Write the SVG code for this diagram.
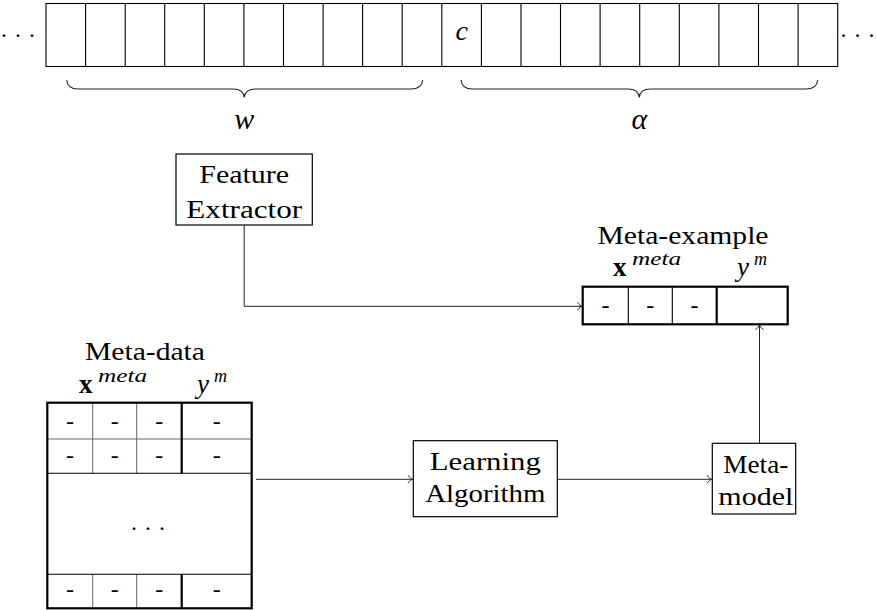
<svg xmlns="http://www.w3.org/2000/svg" width="876" height="610" viewBox="0 0 876 610">
<defs>
<style>
text{font-family:"Liberation Serif","Times New Roman",serif;fill:#000;}
.lbl{font-size:25px;text-anchor:middle;}
.it{font-style:italic;}
.bf{font-weight:bold;}
.sup{font-size:18px;font-style:italic;}
.dash{font-size:24px;text-anchor:middle;}
.box{fill:#fff;stroke:#000;stroke-width:1.2;}
.thin{stroke:#000;stroke-width:1.1;fill:none;}
.gray{stroke:#666;stroke-width:1;fill:none;}
.thick{stroke:#000;stroke-width:2.2;fill:none;}
.conn{stroke:#222;stroke-width:1;fill:none;marker-end:url(#arr);}
.brace{stroke:#222;stroke-width:1.1;fill:none;}
</style>
<marker id="arr" markerUnits="userSpaceOnUse" markerWidth="12" markerHeight="12" refX="0" refY="0" viewBox="-6 -6 12 12" orient="auto" overflow="visible">
<path d="M-4.5,-4 C-3,-1.6 -1.2,-0.4 0,0 C-1.2,0.4 -3,1.6 -4.5,4" fill="none" stroke="#222" stroke-width="1"/>
</marker>
</defs>

<g id="tape">
<rect x="46" y="3.5" width="791.7" height="63" class="thin"/>
<path class="thin" d="M85.6,3.5V66.5M125.2,3.5V66.5M164.7,3.5V66.5M204.3,3.5V66.5M243.9,3.5V66.5M283.5,3.5V66.5M323.1,3.5V66.5M362.6,3.5V66.5M402.2,3.5V66.5M441.8,3.5V66.5M481.4,3.5V66.5M521,3.5V66.5M560.5,3.5V66.5M600.1,3.5V66.5M639.7,3.5V66.5M679.3,3.5V66.5M718.9,3.5V66.5M758.5,3.5V66.5M798.1,3.5V66.5"/>
<text x="461.6" y="40" class="lbl it" font-size="28" style="font-size:28px">c</text>
<text x="18" y="43" class="lbl" style="font-size:24px">· · ·</text>
<text x="857.5" y="43" class="lbl" style="font-size:24px">· · ·</text>
</g>

<g id="brace-w">
<path class="brace" d="M66.7,80 Q67.5,89 78,89 L233,89 Q243.5,89 244.3,97.5 Q245.1,89 255.6,89 L411,89 Q421.9,89 422.7,80"/>
<text x="244.3" y="128.5" class="lbl it" style="font-size:30px">w</text>
</g>
<g id="brace-alpha">
<path class="brace" d="M461,80 Q461.8,89 472.3,89 L628,89 Q638.5,89 639.3,97.5 Q640.1,89 650.6,89 L806,89 Q816.9,89 817.7,80"/>
<text x="639.3" y="128.5" class="lbl it" style="font-size:30px">α</text>
</g>

<g id="feature-extractor">
<rect x="176" y="154" width="136.3" height="71" class="box"/>
<text x="244.2" y="183.3" class="lbl" textLength="90" lengthAdjust="spacingAndGlyphs">Feature</text>
<text x="244.2" y="218.3" class="lbl" textLength="115.7" lengthAdjust="spacingAndGlyphs">Extractor</text>
</g>

<g id="meta-example">
<text x="683" y="244" class="lbl" textLength="171" lengthAdjust="spacingAndGlyphs">Meta-example</text>
<text x="613" y="276" class="bf" style="font-size:27px">x</text>
<text x="632" y="265" class="sup" textLength="49" lengthAdjust="spacingAndGlyphs">meta</text>
<text x="737" y="276" class="it" style="font-size:27px">y</text>
<text x="754" y="265" class="sup">m</text>
<rect x="582.7" y="286.7" width="205" height="37.6" fill="#fff" stroke="none"/>
<path class="thin" d="M628.3,286.7V324.3M672.3,286.7V324.3"/>
<path class="thick" d="M716.7,286.7V324.3"/>
<rect x="582.7" y="286.7" width="205" height="37.6" class="thick"/>
<text x="605.5" y="312.5" class="dash">-</text>
<text x="650.3" y="312.5" class="dash">-</text>
<text x="694.5" y="312.5" class="dash">-</text>
</g>

<g id="meta-data">
<text x="145" y="360" class="lbl" textLength="120" lengthAdjust="spacingAndGlyphs">Meta-data</text>
<text x="79" y="393" class="bf" style="font-size:27px">x</text>
<text x="98" y="382" class="sup" textLength="49" lengthAdjust="spacingAndGlyphs">meta</text>
<text x="197" y="393" class="it" style="font-size:27px">y</text>
<text x="214" y="382" class="sup">m</text>
<rect x="47.3" y="402.7" width="204.4" height="205.6" fill="#fff" stroke="none"/>
<path class="gray" d="M47.3,439H251.7M92.7,402.7V473.3M136.7,402.7V473.3M92.7,574.3V608.3M136.7,574.3V608.3"/>
<path class="thin" d="M47.3,473.3H251.7M47.3,574.3H251.7"/>
<path class="thick" d="M181.7,402.7V473.3M181.7,574.3V608.3"/>
<rect x="47.3" y="402.7" width="204.4" height="205.6" class="thick"/>
<text x="70" y="428.5" class="dash">-</text>
<text x="114.7" y="428.5" class="dash">-</text>
<text x="159.2" y="428.5" class="dash">-</text>
<text x="216.7" y="428.5" class="dash">-</text>
<text x="70" y="463" class="dash">-</text>
<text x="114.7" y="463" class="dash">-</text>
<text x="159.2" y="463" class="dash">-</text>
<text x="216.7" y="463" class="dash">-</text>
<text x="70" y="597" class="dash">-</text>
<text x="114.7" y="597" class="dash">-</text>
<text x="159.2" y="597" class="dash">-</text>
<text x="216.7" y="597" class="dash">-</text>
<text x="148" y="536" class="lbl" style="font-size:24px">· · ·</text>
</g>

<g id="learning-algorithm">
<rect x="413.3" y="440.7" width="144" height="76" class="box"/>
<text x="485.3" y="470" class="lbl" textLength="111" lengthAdjust="spacingAndGlyphs">Learning</text>
<text x="485.3" y="501.7" class="lbl" textLength="120" lengthAdjust="spacingAndGlyphs">Algorithm</text>
</g>

<g id="meta-model">
<rect x="712.3" y="443.3" width="83.4" height="70.7" class="box"/>
<text x="755.8" y="473.3" class="lbl" textLength="65" lengthAdjust="spacingAndGlyphs">Meta-</text>
<text x="755.8" y="505" class="lbl" textLength="75" lengthAdjust="spacingAndGlyphs">model</text>
</g>

<g id="connectors">
<path class="conn" d="M244.2,225V306.3H582"/>
<path class="conn" d="M256,479.3H412.6"/>
<path class="conn" d="M557.3,479.3H711.6"/>
<path class="conn" d="M759.5,443.3V325"/>
</g>
</svg>
